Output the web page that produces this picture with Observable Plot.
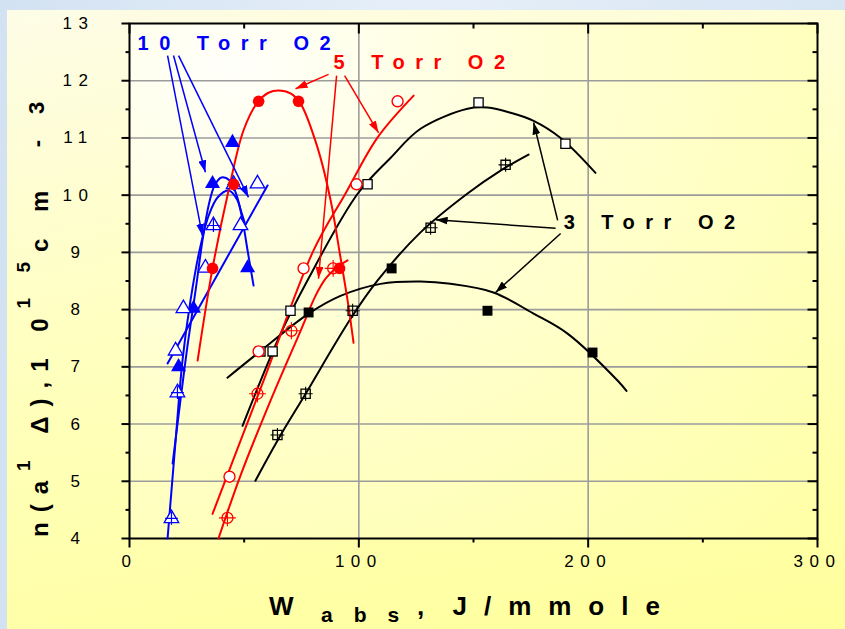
<!DOCTYPE html>
<html><head><meta charset="utf-8">
<script src="https://cdn.jsdelivr.net/npm/d3@7"></script>
<script src="https://cdn.jsdelivr.net/npm/@observablehq/plot@0.6"></script>
<style>
html,body{margin:0;padding:0;}
body{width:845px;height:629px;overflow:hidden;background:linear-gradient(90deg,#d3e2f2,#e6eff9 50%,#d8e5f3);font-family:"Liberation Sans",Arial,sans-serif;}
#wrap{position:relative;width:845px;height:629px;}
#panel{position:absolute;left:7px;top:10px;width:838px;height:619px;background:linear-gradient(170deg,#fdfce6 0%,#ffffc0 45%,#ffff9c 100%);}
#area{position:absolute;background:radial-gradient(ellipse at 15% 8%,#fffffa 0%,#ffffd0 45%,#ffffa6 100%);}
#chart{position:absolute;left:0;top:0;}
</style></head><body><div id="wrap"><div id="panel"></div><div id="area"></div><div id="chart"></div></div>
<script>
// ---------- axes ----------
const xDomain = [0, 300];
const yDomain = [4, 13];
const xTickValues = [0, 100, 200, 300];
const xMinorTicks = [50, 150, 250];
const yTickValues = [4, 5, 6, 7, 8, 9, 10, 11, 12, 13];
const yMinorTicks = [4.5, 5.5, 6.5, 7.5, 8.5, 9.5, 10.5, 11.5, 12.5];
const xGridValues = [100, 200];
const yGridValues = [5, 6, 7, 8, 9, 10, 11, 12];

// ---------- 3 Torr O2 (black) ----------
const t3OpenSquares = [[57.1, 7.27], [62.4, 7.27], [70.2, 7.98], [103.8, 10.19], [152.2, 11.62], [190.1, 10.90]];
const t3CrossSquares = [[64.5, 5.81], [76.8, 6.53], [97.3, 7.98], [131.3, 9.43], [164.0, 10.53]];
const t3FilledSquares = [[78.1, 7.95], [114.3, 8.72], [156.1, 7.98], [201.9, 7.25]];
const t3OpenFit = [[49.3, 5.97], [65.9, 7.58], [77.6, 8.51], [99.4, 10.02], [113.8, 10.65], [126.9, 11.16], [147.4, 11.51], [156.1, 11.53], [166.2, 11.44], [176.2, 11.30], [188.0, 11.0], [203.2, 10.39]];
const t3CrossFit = [[54.9, 5.01], [64.5, 5.71], [76.8, 6.53], [96.4, 7.84], [108.2, 8.51], [126.9, 9.35], [147.4, 10.03], [161.8, 10.43], [174.0, 10.71]];
const t3FilledFit = [[42.7, 6.81], [56.3, 7.25], [78.1, 7.93], [92.0, 8.24], [109.5, 8.45], [126.9, 8.49], [140.0, 8.45], [158.7, 8.30], [176.2, 7.93], [191.0, 7.58], [212.8, 6.76], [216.7, 6.58]];

// ---------- 5 Torr O2 (red) ----------
const t5FilledCircles = [[36.2, 8.72], [45.4, 10.19], [56.3, 11.64], [73.7, 11.64], [91.6, 8.72]];
const t5OpenCircles = [[43.6, 5.08], [56.3, 7.27], [75.9, 8.72], [99.0, 10.19], [116.9, 11.64]];
const t5CrossCircles = [[42.7, 4.36], [55.8, 6.53], [70.6, 7.63], [88.8, 8.72]];
const t5FilledFit = [[29.7, 7.11], [36.2, 8.72], [43.2, 10.08], [49.7, 11.13], [55.8, 11.62], [60.6, 11.79], [65.0, 11.83], [70.2, 11.78], [74.6, 11.60], [82.0, 10.83], [87.7, 9.91], [92.0, 8.91], [95.1, 8.16], [97.7, 7.42]];
const t5OpenFit = [[36.2, 4.43], [58.0, 6.71], [80.2, 9.03], [94.2, 10.03], [108.2, 11.01], [123.9, 11.74]];
const t5CrossFit = [[38.8, 4.0], [48.4, 5.10], [61.5, 6.41], [74.6, 7.63], [81.1, 8.24], [85.5, 8.54], [89.8, 8.72], [95.1, 8.86]];

// ---------- 10 Torr O2 (blue) ----------
const t10FilledTri = [[21.4, 7.0], [27.9, 8.02], [36.2, 10.20], [44.9, 10.92], [51.5, 8.73]];
const t10OpenTri = [[20.1, 7.28], [23.5, 8.02], [33.1, 8.73], [48.4, 9.47], [55.8, 10.20]];
const t10CrossTri = [[18.3, 4.35], [20.9, 6.55], [36.6, 9.47], [45.4, 10.19]];
const t10FilledFit = [[18.8, 5.31], [22.2, 6.41], [25.3, 7.37], [28.8, 8.33], [31.8, 9.20], [34.5, 9.82], [37.1, 10.17], [40.1, 10.31], [43.6, 10.26], [46.7, 10.0], [49.3, 9.56], [51.5, 9.03], [54.1, 8.42]];
const t10OpenFit = [[16.6, 7.06], [60.2, 10.17]];
const t10CrossFit = [[16.6, 4.0], [20.1, 5.71], [23.1, 7.11], [26.6, 8.16], [30.5, 9.03], [34.5, 9.64], [38.4, 9.96], [43.2, 10.08], [46.7, 9.94], [48.8, 9.70], [50.2, 9.52]];

// ---------- annotations ----------
const labelTexts = ["10 Torr O2", "5 Torr O2", "3 Torr O2"];
const labelX = [3.5, 89.0, 189.3];
const labelY = [12.65, 12.32, 9.52];
const arrowsBlue = [[16.6, 12.44, 31.8, 9.29], [19.2, 12.44, 33.1, 10.40], [21.4, 12.44, 51.9, 9.96]];
const arrowsRed = [[86.8, 12.11, 72.4, 11.86], [90.3, 12.09, 82.4, 8.54], [93.8, 12.09, 108.6, 11.09]];
const arrowsBlack = [[186.7, 9.56, 176.2, 11.27], [185.8, 9.42, 133.5, 9.57], [188.0, 9.33, 159.6, 8.30]];

// ---------- style ----------
const BLUE = "#0000ff", RED = "#ff0000", BLACK = "#000000";
const labelColors = [BLUE, RED, BLACK];
const FONT = "Liberation Sans, Arial, sans-serif";
const W = 845, H = 629, mL = 129, mR = 28, mT = 23, mB = 91;

const area = document.getElementById("area");
Object.assign(area.style, {left: mL + "px", top: mT + "px", width: (W - mL - mR) + "px", height: (H - mT - mB) + "px"});

const tickSym = (dx, dy) => ({draw(ctx) { ctx.moveTo(0, 0); ctx.lineTo(dx, dy); }});
const X = d => d[0], Y = d => d[1];
const fitLine = (data, color) => Plot.line(data, {x: X, y: Y, stroke: color, strokeWidth: 2, curve: "catmull-rom"});
const linkOpts = (color, name) => ({x1: d => d[0], y1: d => d[1], x2: d => d[2], y2: d => d[3], stroke: color, strokeWidth: 1.5, ariaDescription: name});

const plot = Plot.plot({
  width: W, height: H,
  marginLeft: mL, marginRight: mR, marginTop: mT, marginBottom: mB,
  x: {domain: xDomain, axis: null},
  y: {domain: yDomain, axis: null},
  style: {background: "transparent", fontFamily: FONT, overflow: "visible"},
  marks: [
    Plot.ruleY(yGridValues, {stroke: "#9c9c9c", strokeWidth: 1.6}),
    Plot.ruleX(xGridValues, {stroke: "#9c9c9c", strokeWidth: 1.6}),
    // ticks
    Plot.dot(yTickValues, {y: d => d, frameAnchor: "left", symbol: tickSym(-8, 0), fill: "none", stroke: BLACK, strokeWidth: 2}),
    Plot.dot(yMinorTicks, {y: d => d, frameAnchor: "left", symbol: tickSym(-4, 0), fill: "none", stroke: BLACK, strokeWidth: 2}),
    Plot.dot(yTickValues, {y: d => d, frameAnchor: "right", symbol: tickSym(-10, 0), fill: "none", stroke: BLACK, strokeWidth: 2}),
    Plot.dot(yMinorTicks, {y: d => d, frameAnchor: "right", symbol: tickSym(-5, 0), fill: "none", stroke: BLACK, strokeWidth: 2}),
    Plot.dot(xTickValues, {x: d => d, frameAnchor: "bottom", symbol: tickSym(0, 9), fill: "none", stroke: BLACK, strokeWidth: 2}),
    Plot.dot(xMinorTicks, {x: d => d, frameAnchor: "bottom", symbol: tickSym(0, 4), fill: "none", stroke: BLACK, strokeWidth: 2}),
    Plot.dot(xTickValues, {x: d => d, frameAnchor: "top", symbol: tickSym(0, 10), fill: "none", stroke: BLACK, strokeWidth: 2}),
    Plot.dot(xMinorTicks, {x: d => d, frameAnchor: "top", symbol: tickSym(0, 5), fill: "none", stroke: BLACK, strokeWidth: 2}),
    Plot.frame({stroke: BLACK, strokeWidth: 2}),
    Plot.text(yTickValues, {y: d => d, text: d => String(d), frameAnchor: "left", dx: -51, textAnchor: "middle", fontSize: 17, fill: BLACK, ariaDescription: "tick-labels"}),
    Plot.text(xTickValues, {x: d => d, text: d => String(d), frameAnchor: "bottom", dy: 28, textAnchor: "middle", fontSize: 17, fill: BLACK, ariaDescription: "tick-labels"}),
    // fits
    fitLine(t10FilledFit, BLUE), fitLine(t10OpenFit, BLUE), fitLine(t10CrossFit, BLUE),
    fitLine(t3OpenFit, BLACK), fitLine(t3CrossFit, BLACK), fitLine(t3FilledFit, BLACK),
    fitLine(t5FilledFit, RED), fitLine(t5OpenFit, RED), fitLine(t5CrossFit, RED),
    // arrows
    Plot.link(arrowsBlue, linkOpts(BLUE, "arrows-blue")),
    Plot.link(arrowsRed, linkOpts(RED, "arrows-red")),
    Plot.link(arrowsBlack, linkOpts(BLACK, "arrows-black")),
    // blue markers
    Plot.dot(t10FilledTri, {x: X, y: Y, symbol: "triangle", r: 5.6, fill: BLUE}),
    Plot.dot(t10OpenTri, {x: X, y: Y, symbol: "triangle", r: 5.4, fill: "white", stroke: BLUE, strokeWidth: 1.3}),
    Plot.dot(t10CrossTri, {x: X, y: Y, symbol: "triangle", r: 5.4, fill: "white", stroke: BLUE, strokeWidth: 1.3}),
    Plot.dot(t10CrossTri, {x: X, y: Y, symbol: "plus", r: 4.2, stroke: BLUE, strokeWidth: 1.2}),
    // black markers
    Plot.dot(t3OpenSquares, {x: X, y: Y, symbol: "square", r: 5.2, fill: "white", stroke: BLACK, strokeWidth: 1.3}),
    Plot.dot(t3CrossSquares, {x: X, y: Y, symbol: "square", r: 5.2, fill: "none", stroke: BLACK, strokeWidth: 1.3}),
    Plot.dot(t3CrossSquares, {x: X, y: Y, symbol: "plus", r: 4.6, stroke: BLACK, strokeWidth: 1.1}),
    Plot.dot(t3FilledSquares, {x: X, y: Y, symbol: "square", r: 5.6, fill: BLACK}),
    // red markers
    Plot.dot(t5OpenCircles, {x: X, y: Y, symbol: "circle", r: 5.5, fill: "white", stroke: RED, strokeWidth: 1.4}),
    Plot.dot(t5CrossCircles, {x: X, y: Y, symbol: "circle", r: 5.5, fill: "none", stroke: RED, strokeWidth: 1.3}),
    Plot.dot(t5CrossCircles, {x: X, y: Y, symbol: "plus", r: 5.5, stroke: RED, strokeWidth: 1.1}),
    Plot.dot(t5FilledCircles, {x: X, y: Y, symbol: "circle", r: 5.8, fill: RED}),
    // series labels
    Plot.text(labelTexts, {x: (d, i) => labelX[i], y: (d, i) => labelY[i], text: d => d, fill: (d, i) => labelColors[i], textAnchor: "start", fontSize: 20, fontWeight: "bold", ariaDescription: "series-labels"})
  ]
});
document.getElementById("chart").append(plot);

const svg = d3.select(plot);
svg.selectAll('g[aria-description="tick-labels"] text').attr("letter-spacing", 6.5);
svg.selectAll('g[aria-description="series-labels"] text').attr("letter-spacing", 10.5);

// arrowheads
const defs = svg.append("defs");
[["ah-blue", BLUE, "arrows-blue"], ["ah-red", RED, "arrows-red"], ["ah-black", BLACK, "arrows-black"]].forEach(([id, c, name]) => {
  defs.append("marker").attr("id", id).attr("viewBox", "0 0 12 8").attr("refX", 12).attr("refY", 4)
    .attr("markerWidth", 12).attr("markerHeight", 8).attr("markerUnits", "userSpaceOnUse").attr("orient", "auto")
    .append("path").attr("d", "M0,0L12,4L0,8Z").attr("fill", c);
  svg.selectAll(`g[aria-description="${name}"] path`).attr("marker-end", `url(#${id})`);
});

// x axis title: W_abs, J/mmole
const xt = svg.append("g").attr("font-family", FONT).attr("font-weight", "bold").attr("fill", BLACK)
  .attr("text-anchor", "start").style("white-space", "pre");
xt.append("text").attr("x", 269).attr("y", 615).attr("font-size", 26).text("W");
xt.append("text").attr("x", 321).attr("y", 622).attr("font-size", 21).attr("letter-spacing", 21).text("abs");
xt.append("text").attr("x", 417).attr("y", 615).attr("font-size", 26).attr("letter-spacing", 17).attr("word-spacing", -13).text(", J/mmole");

// y axis title: n(a1Δ), 10^15 cm-3
const yt = svg.append("text").attr("transform", "translate(48,537) rotate(-90)").attr("font-family", FONT)
  .attr("text-anchor", "start")
  .attr("font-size", 24).attr("font-weight", "bold").attr("fill", BLACK).attr("letter-spacing", 10).style("white-space", "pre");
yt.append("tspan").text("n(a");
yt.append("tspan").attr("dy", -18).attr("font-size", 19).text("1");
yt.append("tspan").attr("dy", 18).text(" Δ),1 0");
yt.append("tspan").attr("dy", -18).attr("font-size", 19).text("1 5");
yt.append("tspan").attr("dy", 18).text("c m  ");
yt.append("tspan").attr("dy", -4).attr("font-size", 22).text("- 3");
</script></body></html>
